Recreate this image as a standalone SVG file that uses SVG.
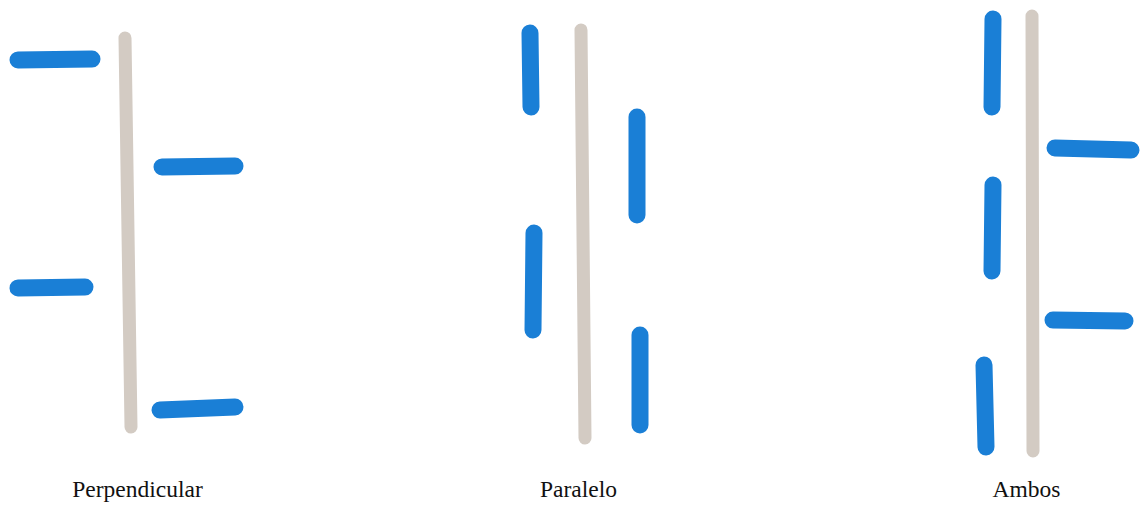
<svg xmlns="http://www.w3.org/2000/svg" width="1142" height="507" viewBox="0 0 1142 507">
<style>
.rod{stroke:#d3cbc3;stroke-width:13;stroke-linecap:round;fill:none}
.b{stroke:#1a7fd6;stroke-width:17;stroke-linecap:round;fill:none}
.lbl{font-family:"Liberation Serif",serif;font-size:23.5px;fill:#111;text-anchor:middle}
</style>
<rect width="1142" height="507" fill="#fff"/>
<g id="perpendicular">
<line class="rod" x1="125" y1="38" x2="131" y2="427"/>
<line class="b" x1="18" y1="60" x2="92" y2="59"/>
<line class="b" x1="162" y1="167" x2="235" y2="166"/>
<line class="b" x1="18" y1="288" x2="85" y2="287"/>
<line class="b" x1="160" y1="410" x2="235" y2="407"/>
<text class="lbl" x="137.5" y="497">Perpendicular</text>
</g>
<g id="paralelo">
<line class="rod" x1="581" y1="30" x2="585" y2="438"/>
<line class="b" x1="530" y1="33" x2="531" y2="107"/>
<line class="b" x1="637" y1="117" x2="637" y2="215"/>
<line class="b" x1="534" y1="233" x2="533" y2="330"/>
<line class="b" x1="640" y1="335" x2="640" y2="425"/>
<text class="lbl" x="578.5" y="497">Paralelo</text>
</g>
<g id="ambos">
<line class="rod" x1="1032" y1="16" x2="1033" y2="451"/>
<line class="b" x1="993" y1="19" x2="992" y2="107"/>
<line class="b" x1="1055" y1="148" x2="1131" y2="150"/>
<line class="b" x1="993" y1="185" x2="992" y2="271"/>
<line class="b" x1="1053" y1="320" x2="1125" y2="321"/>
<line class="b" x1="984" y1="365" x2="986" y2="447"/>
<text class="lbl" x="1026.5" y="497">Ambos</text>
</g>
</svg>
